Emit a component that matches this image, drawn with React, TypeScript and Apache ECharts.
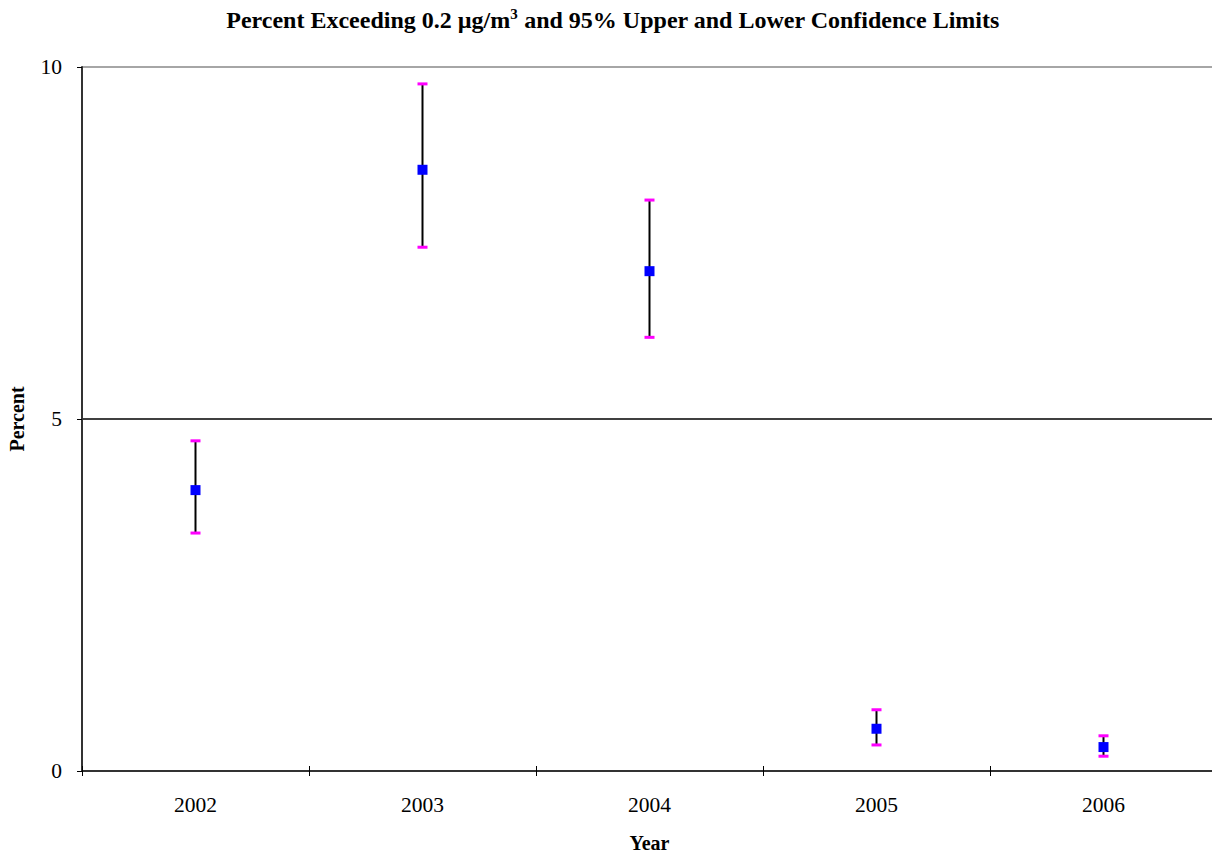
import React, { useEffect, useRef } from "react";
import * as echarts from "echarts";

const years = ["2002", "2003", "2004", "2005", "2006"];
const percent = [3.99, 8.54, 7.1, 0.6, 0.34];
const upper = [4.69, 9.76, 8.11, 0.87, 0.5];
const lower = [3.38, 7.44, 6.16, 0.37, 0.21];
const yTicks = [0, 5, 10];

const FONT = "'Liberation Serif', 'Times New Roman', serif";

export default function App() {
  const ref = useRef<HTMLDivElement>(null);
  useEffect(() => {
    if (!ref.current) return;
    const chart = echarts.init(ref.current, undefined, { renderer: "svg" });
    const errData = years.map((_, i) => [i, lower[i], upper[i]]);
    chart.setOption({
      animation: false,
      backgroundColor: "#fff",
      title: {
        left: 608,
        textAlign: "center",
        top: 1,
        text: "{a|Percent Exceeding 0.2 µg/m}{s|3}{a| and 95% Upper and Lower Confidence Limits}",
        textStyle: {
          rich: {
            a: { fontFamily: FONT, fontSize: 24, fontWeight: "bold", color: "#000", lineHeight: 28 },
            s: { fontFamily: FONT, fontSize: 15, fontWeight: "bold", color: "#000", verticalAlign: "top", lineHeight: 28, padding: [0, 0, 12, 0] },
          },
        },
      },
      grid: { left: 82, right: -5, top: 67, bottom: 85, outerBoundsMode: "none", containLabel: false },
      xAxis: [
        {
          type: "category",
          data: years,
          boundaryGap: true,
          name: "Year",
          nameLocation: "middle",
          nameGap: 62,
          nameTextStyle: { fontFamily: FONT, fontSize: 20, fontWeight: "bold", color: "#000" },
          axisLine: { lineStyle: { color: "#333", width: 2 } },
          axisTick: { show: true, length: 5, lineStyle: { color: "#000", width: 1 } },
          axisLabel: { fontFamily: FONT, fontSize: 21.5, color: "#000", margin: 23 },
          splitLine: { show: false },
        },
        {
          type: "category",
          data: years,
          position: "bottom",
          boundaryGap: true,
          axisLine: { show: false },
          axisTick: { show: true, inside: true, length: 5, lineStyle: { color: "#000", width: 1 } },
          axisLabel: { show: false },
          splitLine: { show: false },
        },
      ],
      yAxis: {
        type: "value",
        min: 0,
        max: 10,
        interval: 5,
        name: "Percent",
        nameLocation: "middle",
        nameGap: 55,
        nameRotate: 90,
        nameTextStyle: { fontFamily: FONT, fontSize: 20, fontWeight: "bold", color: "#000" },
        axisLine: { show: true, lineStyle: { color: "#333", width: 2 } },
        axisTick: { show: true, length: 5, lineStyle: { color: "#000" } },
        axisLabel: {
          fontFamily: FONT,
          fontSize: 21.5,
          color: "#000",
          margin: 20,
          formatter: (v: number) => (yTicks.includes(v) ? String(v) : ""),
        },
        splitLine: { show: true, lineStyle: { color: ["#000", "#000", "#888"], width: 1.5 } },
      },
      series: [
        {
          type: "custom",
          data: errData,
          z: 3,
          renderItem: (params: any, api: any) => {
            const x = api.value(0);
            const lo = api.coord([x, api.value(1)]);
            const hi = api.coord([x, api.value(2)]);
            const cw = 5;
            return {
              type: "group",
              children: [
                { type: "line", shape: { x1: lo[0], y1: lo[1], x2: hi[0], y2: hi[1] }, style: { stroke: "#000", lineWidth: 2 } },
                { type: "line", shape: { x1: lo[0] - cw, y1: lo[1], x2: lo[0] + cw, y2: lo[1] }, style: { stroke: "#ff00ff", lineWidth: 3 } },
                { type: "line", shape: { x1: hi[0] - cw, y1: hi[1], x2: hi[0] + cw, y2: hi[1] }, style: { stroke: "#ff00ff", lineWidth: 3 } },
              ],
            };
          },
        },
        {
          type: "scatter",
          data: percent,
          symbol: "rect",
          symbolSize: 10,
          z: 4,
          itemStyle: { color: "#0000ff", opacity: 1 },
        },
      ],
    });
    return () => chart.dispose();
  }, []);
  return (
    <div
      ref={ref}
      style={{ position: "fixed", left: 0, top: 0, width: 1212, height: 856, background: "#fff" }}
    />
  );
}
